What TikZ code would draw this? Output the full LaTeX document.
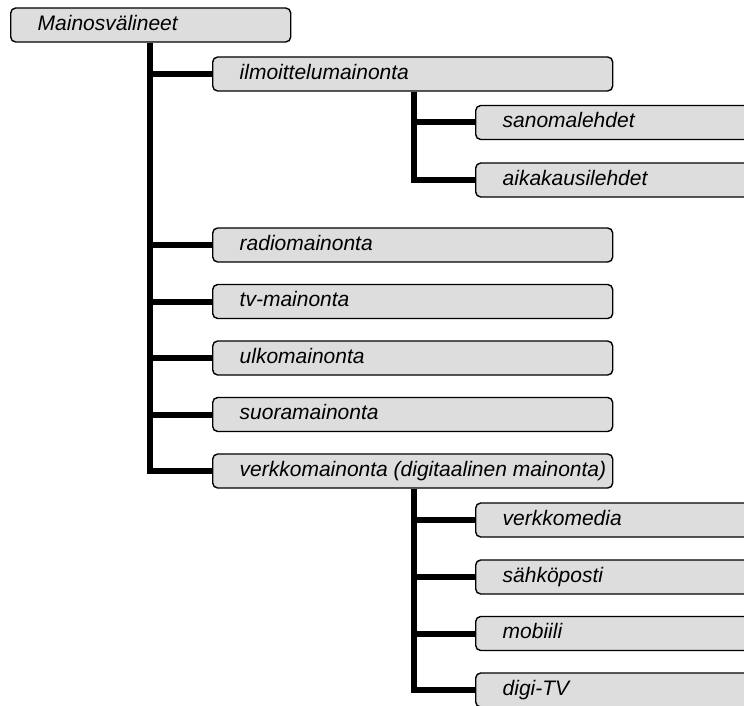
\documentclass[tikz,border=0pt]{standalone}
\usepackage{fontspec}
\setmainfont{Liberation Sans}
\definecolor{boxgray}{RGB}{221,221,221}
\tikzset{
  box/.style={draw=black, fill=boxgray, rounded corners=5pt, line width=1.4pt,
    anchor=west, minimum height=34pt, text height=15pt, text depth=4.5pt,
    inner xsep=27pt, inner ysep=0pt, font=\fontsize{21}{25}\selectfont\itshape},
  conn/.style={line width=6pt}
}
\newcommand{\topbox}[1]{\makebox[226pt][l]{#1}}
\newcommand{\midbox}[1]{\makebox[346pt][l]{#1}}
\newcommand{\subbox}[1]{\makebox[271pt][l]{#1}}

\begin{document}
\begin{tikzpicture}[x=1pt,y=1pt]
    \useasboundingbox (0,0) rectangle (744,-706);
    \clip (0,0) rectangle (744,-706);
    \node[box] (mainos) at (10,-25) {\topbox{Mainosvälineet}};
    \node[box] (ilmo) at (212,-74) {\midbox{ilmoittelumainonta}};
    \node[box] (sanoma) at (475,-122.5) {\subbox{sanomalehdet}};
    \node[box] (aika) at (475,-180) {\subbox{aikakausilehdet}};
    \node[box] (radio) at (212,-245) {\midbox{radiomainonta}};
    \node[box] (tv) at (212,-301.5) {\midbox{tv-mainonta}};
    \node[box] (ulko) at (212,-358) {\midbox{ulkomainonta}};
    \node[box] (suora) at (212,-414.5) {\midbox{suoramainonta}};
    \node[box] (verkko) at (212,-471) {\midbox{verkkomainonta (digitaalinen mainonta)}};
    \node[box] (media) at (475,-520) {\subbox{verkkomedia}};
    \node[box] (sposti) at (475,-577) {\subbox{sähköposti}};
    \node[box] (mobiili) at (475,-633.5) {\subbox{mobiili}};
    \node[box] (digitv) at (475,-690) {\subbox{digi-TV}};
    \coordinate (trunk) at (150,0);
    \coordinate (branch) at (414,0);
    \draw[conn] (mainos.south -| trunk) |- (verkko.west);
    \foreach \n in {ilmo,radio,tv,ulko,suora} \draw[conn] (\n.west -| trunk) -- (\n.west);
    \draw[conn] (ilmo.south -| branch) |- (aika.west);
    \draw[conn] (sanoma.west -| branch) -- (sanoma.west);
    \draw[conn] (verkko.south -| branch) |- (digitv.west);
    \foreach \n in {media,sposti,mobiili} \draw[conn] (\n.west -| branch) -- (\n.west);
\end{tikzpicture}
\end{document}
